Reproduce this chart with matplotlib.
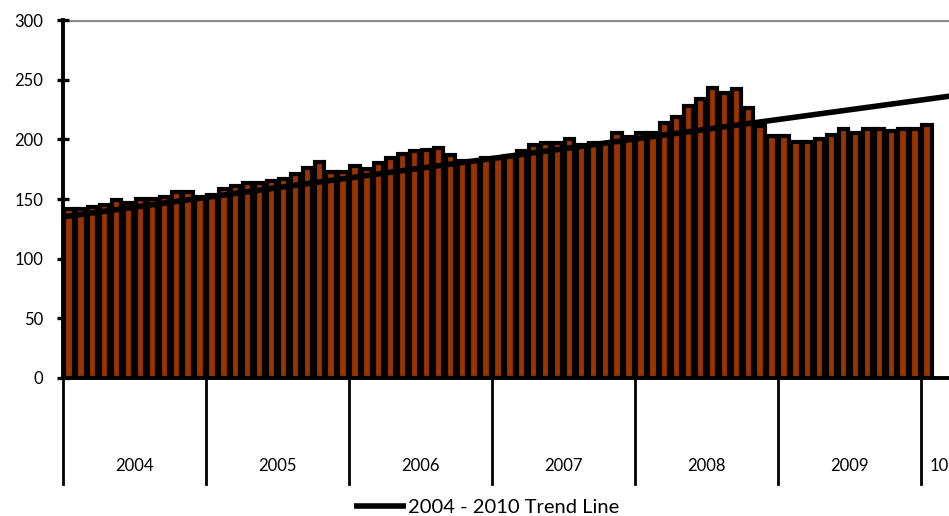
import numpy as np
import matplotlib
matplotlib.use("Agg")
from matplotlib import pyplot as plt
import matplotlib.transforms as mtransforms

plt.rcParams['font.family'] = ['Lato', 'DejaVu Sans']

# monthly index values, Jan 2004 - Jan 2010
values = [142, 142, 143, 145, 149, 147, 150, 150, 152, 156, 156, 152,   # 2004
          153, 158, 161, 163, 163, 165, 167, 171, 176, 181, 173, 173,   # 2005
          178, 175, 180, 184, 188, 190, 191, 193, 187, 182, 182, 184,   # 2006
          184, 186, 190, 195, 197, 197, 200, 195, 197, 197, 205, 202,   # 2007
          205, 205, 214, 219, 228, 234, 243, 239, 242, 226, 211, 203,   # 2008
          203, 198, 198, 200, 204, 209, 205, 209, 209, 207, 209, 209,   # 2009
          212]                                                          # 2010

years = ["2004", "2005", "2006", "2007", "2008", "2009", "10"]
months_per_year = [12, 12, 12, 12, 12, 12, 3]   # axis runs to Mar 2010

# 2004 - 2010 trend line, value at start and end of the axis
trend_start = 135
trend_end = 237

n_months = sum(months_per_year)
x = np.arange(len(values))

fig = plt.figure(figsize=(9.49, 5.16), dpi=100)
ax = fig.add_axes([63 / 949, 138 / 516, 1 - 63 / 949, 358 / 516])

ax.bar(x, values, width=0.78, color="#993300", edgecolor="black", linewidth=3.0, zorder=2)
ax.plot([-0.5, n_months - 0.5], [trend_start, trend_end], color="black", lw=4.0,
        solid_capstyle="butt", zorder=3, label="2004 - 2010 Trend Line")

ax.set_xlim(-0.5, 73.85)
ax.set_ylim(0, 300)
ax.set_yticks(range(0, 301, 50))
ax.set_xticks([])
ax.axhline(300, color="#8c8c8c", lw=2.4, zorder=1)

for s in ["top", "right"]:
    ax.spines[s].set_visible(False)
ax.spines["left"].set_linewidth(2.8)
ax.spines["bottom"].set_linewidth(2.8)
ax.spines["left"].set_zorder(4)
ax.spines["bottom"].set_zorder(4)
ax.tick_params(axis="y", direction="inout", length=8, width=2.4, pad=10, labelsize=12)

# year dividers and labels under the axis
trans = mtransforms.blended_transform_factory(ax.transData, ax.transAxes)
edge = -0.5
for yr, n in zip(years, months_per_year):
    ax.plot([edge, edge], [0, -0.295], transform=trans, color="black", lw=2.0, clip_on=False)
    ax.text(edge + n / 2, -0.245, yr, transform=trans, ha="center", va="center", fontsize=12)
    edge += n

fig.legend(loc="lower center", bbox_to_anchor=(0.513, -0.035), frameon=False, fontsize=14.5,
           handlelength=2.6, handletextpad=0.1)

fig.savefig("out.png", dpi=100)
